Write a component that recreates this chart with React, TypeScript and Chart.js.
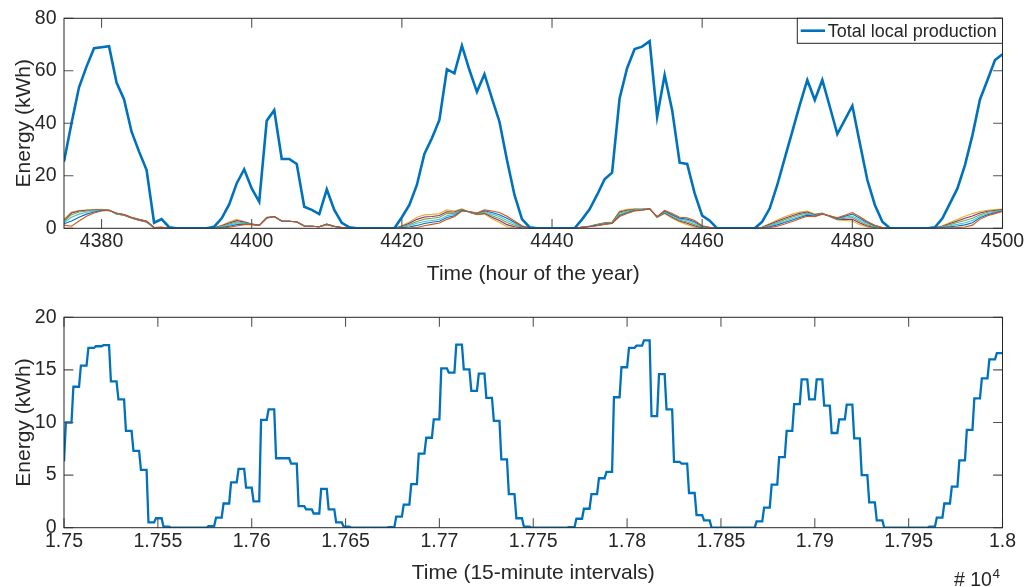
import React, { useEffect, useRef } from 'react';
import { Chart, registerables } from 'chart.js';
Chart.register(...registerables);

// ---------- DATA ----------
const firstHour = 4375;
const lastHour = 4500;
const hours: number[] = Array.from({ length: lastHour - firstHour + 1 }, (_, i) => firstHour + i);

// Total local production (kWh per hour), hours 4375..4500
const totalProduction = [
  25.4, 40, 53.7, 61.6, 68.6, 69, 69.4, 55.5, 49.1, 36.8,
  29.2, 22.2, 2.1, 3.5, 0.4, 0, 0, 0, 0, 0,
  0.6, 3.8, 9.1, 17.1, 22.5, 15.2, 10.1, 41, 45, 26.4,
  26.4, 24.5, 8.2, 7, 5.4, 14.8, 7, 2.1, 0.4, 0,
  0, 0, 0, 0, 0, 4.2, 8.9, 16.5, 28.3, 34.3,
  41.3, 60.6, 59, 69.6, 60.3, 52, 58.7, 49.5, 40.6, 26,
  12.7, 3.5, 0.4, 0, 0, 0, 0, 0, 0, 3.4,
  7.2, 12.7, 18.7, 21.2, 49.5, 61, 68.3, 69.2, 71.3, 42.5,
  58.4, 45, 25, 24.5, 13.3, 4.8, 2.9, 0, 0, 0,
  0, 0, 0, 2.5, 7.6, 16.5, 26.7, 36.8, 47, 56.5,
  48.9, 56.5, 46.3, 35.9, 41.3, 46.7, 32.4, 18.4, 8.9, 2.5,
  0, 0, 0, 0, 0, 0, 0.4, 3.8, 9.5, 15.2,
  24.1, 35.5, 49.1, 56.5, 64.1, 66.3,
];

// Individual producers (kWh per hour), hours 4375..4500
const producerYellow = [
  3.5, 6.2, 6.8, 7.0, 7.1, 7.2, 7.0, 5.4, 5.0, 3.8,
  3.0, 2.3, 0.2, 0.3, 0, 0, 0, 0, 0, 0,
  0.2, 1.2, 2.4, 3.4, 2.6, 1.6, 1.1, 4.2, 4.5, 2.7,
  2.7, 2.4, 0.9, 0.8, 0.6, 1.4, 0.7, 0.2, 0, 0,
  0, 0, 0, 0, 0, 1.0, 2.4, 4.2, 5.1, 5.3,
  5.6, 7.0, 6.6, 7.4, 6.0, 5.2, 5.4, 3.6, 2.2, 0.6,
  0.1, 0, 0, 0, 0, 0, 0, 0, 0, 0.5,
  0.9, 1.5, 2.1, 2.4, 6.6, 7.2, 7.4, 7.3, 7.5, 4.2,
  5.6, 3.8, 2.4, 1.4, 0.4, 0, 0, 0, 0, 0,
  0, 0, 0, 0.5, 1.8, 3.2, 4.4, 5.4, 6.2, 6.6,
  5.4, 5.8, 4.4, 3.2, 3.0, 2.8, 1.4, 0.5, 0.1, 0,
  0, 0, 0, 0, 0, 0, 0.3, 1.0, 2.2, 3.4,
  4.6, 5.6, 6.4, 6.9, 7.1, 7.3,
];
const producerPurple = [
  3.0, 5.8, 6.6, 6.9, 7.0, 7.1, 7.0, 5.5, 5.0, 3.9,
  3.1, 2.4, 0.2, 0.3, 0, 0, 0, 0, 0, 0,
  0.2, 1.0, 2.0, 2.9, 2.4, 1.6, 1.1, 4.1, 4.5, 2.7,
  2.7, 2.4, 0.9, 0.8, 0.6, 1.4, 0.7, 0.2, 0, 0,
  0, 0, 0, 0, 0, 0.8, 1.9, 3.4, 4.3, 4.5,
  4.9, 6.3, 6.2, 7.2, 6.1, 5.3, 5.7, 4.2, 3.0, 1.4,
  0.6, 0.2, 0, 0, 0, 0, 0, 0, 0, 0.5,
  0.8, 1.4, 2.0, 2.3, 6.2, 6.9, 7.2, 7.2, 7.5, 4.2,
  5.8, 4.2, 2.8, 1.9, 0.9, 0.2, 0.1, 0, 0, 0,
  0, 0, 0, 0.4, 1.5, 2.7, 3.8, 4.8, 5.7, 6.2,
  5.2, 5.7, 4.5, 3.4, 3.4, 3.4, 2.0, 0.9, 0.3, 0.1,
  0, 0, 0, 0, 0, 0, 0.2, 0.8, 1.8, 2.8,
  3.8, 4.7, 5.8, 6.5, 6.8, 7.1,
];
const producerGreen = [
  2.6, 5.2, 6.2, 6.6, 6.8, 7.0, 6.9, 5.6, 5.1, 4.0,
  3.2, 2.5, 0.2, 0.3, 0, 0, 0, 0, 0, 0,
  0.1, 0.8, 1.6, 2.4, 2.1, 1.6, 1.1, 4.0, 4.5, 2.7,
  2.7, 2.4, 0.9, 0.8, 0.6, 1.5, 0.7, 0.2, 0, 0,
  0, 0, 0, 0, 0, 0.6, 1.4, 2.6, 3.5, 3.8,
  4.2, 5.6, 5.7, 7.1, 6.2, 5.4, 6.0, 4.8, 3.7, 2.2,
  1.2, 0.4, 0, 0, 0, 0, 0, 0, 0, 0.4,
  0.8, 1.3, 1.9, 2.2, 5.8, 6.6, 7.1, 7.1, 7.5, 4.3,
  6.1, 4.5, 3.1, 2.4, 1.4, 0.4, 0.2, 0, 0, 0,
  0, 0, 0, 0.3, 1.2, 2.2, 3.3, 4.3, 5.2, 5.8,
  5.0, 5.6, 4.6, 3.5, 3.8, 4.1, 2.6, 1.3, 0.5, 0.1,
  0, 0, 0, 0, 0, 0, 0.2, 0.6, 1.4, 2.2,
  3.0, 3.8, 5.2, 6.1, 6.5, 6.9,
];
const producerLightBlue = [
  2.1, 4.2, 5.4, 6.1, 6.6, 6.9, 6.9, 5.6, 5.1, 4.0,
  3.2, 2.6, 0.3, 0.4, 0.1, 0, 0, 0, 0, 0,
  0.1, 0.5, 1.2, 1.9, 1.9, 1.5, 1.1, 4.0, 4.5, 2.8,
  2.7, 2.5, 0.9, 0.8, 0.6, 1.5, 0.8, 0.3, 0.1, 0,
  0, 0, 0, 0, 0, 0.4, 1.0, 1.9, 2.6, 3.0,
  3.4, 4.8, 5.3, 6.9, 6.2, 5.6, 6.4, 5.4, 4.5, 3.0,
  1.7, 0.6, 0.1, 0, 0, 0, 0, 0, 0, 0.4,
  0.7, 1.2, 1.7, 2.0, 5.3, 6.2, 6.9, 7.1, 7.4, 4.3,
  6.3, 4.9, 3.5, 3.0, 2.0, 0.6, 0.2, 0, 0, 0,
  0, 0, 0, 0.3, 0.9, 1.8, 2.7, 3.7, 4.6, 5.4,
  4.8, 5.6, 4.6, 3.7, 4.2, 4.7, 3.2, 1.8, 0.8, 0.2,
  0, 0, 0, 0, 0, 0, 0.1, 0.5, 1.0, 1.5,
  2.1, 3.0, 4.6, 5.6, 6.2, 6.8,
];
const producerBlue = [
  1.7, 2.8, 4.2, 5.4, 6.2, 6.8, 6.8, 5.7, 5.2, 4.1,
  3.3, 2.7, 0.3, 0.4, 0.1, 0, 0, 0, 0, 0,
  0, 0.3, 0.8, 1.4, 1.6, 1.5, 1.1, 3.9, 4.5, 2.8,
  2.7, 2.5, 0.9, 0.8, 0.6, 1.6, 0.8, 0.3, 0.1, 0,
  0, 0, 0, 0, 0, 0.2, 0.5, 1.1, 1.8, 2.3,
  2.7, 4.1, 4.8, 6.8, 6.3, 5.7, 6.7, 6.0, 5.2, 3.8,
  2.3, 0.8, 0.1, 0, 0, 0, 0, 0, 0, 0.3,
  0.7, 1.1, 1.6, 1.9, 4.9, 5.9, 6.8, 7.0, 7.4, 4.4,
  6.6, 5.2, 3.8, 3.5, 2.5, 0.8, 0.3, 0, 0, 0,
  0, 0, 0, 0.2, 0.6, 1.3, 2.2, 3.2, 4.1, 5.0,
  4.6, 5.5, 4.7, 3.8, 4.6, 5.4, 3.8, 2.2, 1.0, 0.2,
  0, 0, 0, 0, 0, 0, 0.1, 0.3, 0.6, 0.9,
  1.3, 2.1, 4.0, 5.2, 5.9, 6.6,
];
const producerOrange = [
  1.2, 0.8, 2.8, 4.6, 5.8, 6.6, 6.8, 5.8, 5.2, 4.2,
  3.4, 2.8, 0.3, 0.4, 0.1, 0, 0, 0, 0, 0,
  0, 0.1, 0.4, 0.9, 1.4, 1.5, 1.1, 3.8, 4.5, 2.8,
  2.7, 2.5, 0.9, 0.8, 0.6, 1.6, 0.8, 0.3, 0.1, 0,
  0, 0, 0, 0, 0, 0, 0.1, 0.3, 1.0, 1.5,
  2.0, 3.4, 4.4, 6.6, 6.4, 5.8, 7.0, 6.6, 6.0, 4.6,
  2.8, 1.0, 0.1, 0, 0, 0, 0, 0, 0, 0.3,
  0.6, 1.0, 1.5, 1.8, 4.5, 5.6, 6.6, 6.9, 7.4, 4.4,
  6.8, 5.6, 4.2, 4.0, 3.0, 1.0, 0.4, 0, 0, 0,
  0, 0, 0, 0.1, 0.3, 0.8, 1.6, 2.6, 3.6, 4.6,
  4.4, 5.4, 4.8, 4.0, 5.0, 6.0, 4.4, 2.6, 1.2, 0.3,
  0, 0, 0, 0, 0, 0, 0, 0.1, 0.2, 0.3,
  0.5, 1.2, 3.4, 4.8, 5.6, 6.4,
];

// 15-minute energy level held during each hour (kWh per 15 min), hours 4375..4500
const quarterHourLevels = [
  6.3, 10.0, 13.4, 15.4, 17.1, 17.25, 17.35, 13.9, 12.2, 9.2,
  7.3, 5.5, 0.5, 0.9, 0.1, 0, 0, 0, 0, 0,
  0.15, 0.95, 2.3, 4.3, 5.6, 3.8, 2.5, 10.25, 11.25, 6.6,
  6.6, 6.1, 2.05, 1.75, 1.35, 3.7, 1.75, 0.5, 0.1, 0,
  0, 0, 0, 0, 0.05, 1.05, 2.2, 4.15, 7.05, 8.55,
  10.3, 15.15, 14.75, 17.4, 15.05, 13.0, 14.65, 12.35, 10.15, 6.5,
  3.2, 0.9, 0.1, 0, 0, 0, 0, 0, 0.05, 0.85,
  1.8, 3.2, 4.7, 5.3, 12.4, 15.25, 17.1, 17.3, 17.8, 10.6,
  14.6, 11.25, 6.25, 6.1, 3.3, 1.2, 0.7, 0, 0, 0,
  0, 0, 0, 0.6, 1.9, 4.1, 6.7, 9.2, 11.75, 14.1,
  12.2, 14.1, 11.6, 9.0, 10.3, 11.7, 8.5, 5.0, 2.4, 0.7,
  0, 0, 0, 0, 0, 0, 0.1, 0.95, 2.3, 3.9,
  6.4, 9.3, 12.3, 14.2, 16.0, 16.6,
];

// Tick labels
const topXTicks = [4380, 4400, 4420, 4440, 4460, 4480, 4500];
const topYTicks = [0, 20, 40, 60, 80];
const botXTicks = [17500, 17550, 17600, 17650, 17700, 17750, 17800, 17850, 17900, 17950, 18000];
const botXLabels = ['1.75', '1.755', '1.76', '1.765', '1.77', '1.775', '1.78', '1.785', '1.79', '1.795', '1.8'];
const botYTicks = [0, 5, 10, 15, 20];

const legendLabel = 'Total local production';
const topXTitle = 'Time (hour of the year)';
const botXTitle = 'Time (15-minute intervals)';
const yTitle = 'Energy (kWh)';

// ---------- STYLE ----------
const W = 1028;
const TOP_H = 295;
const BOT_H = 292;
const PLOT_LEFT = 64;
const PLOT_RIGHT = 1002.5;
const FONT = '"Liberation Sans", Arial, Helvetica, sans-serif';
const TEXT = '#262626';
const MBLUE = '#0072BD';

type AxisCfg = {
  xTicks: number[];
  xLabels: string[];
  yTicks: number[];
  yLabels: string[];
  xTitle: string;
  legend?: boolean;
  exponent?: boolean;
};

const makeAxesPlugin = (o: AxisCfg) => ({
  id: 'matlabAxes',
  afterDraw(chart: any) {
    const { ctx, chartArea: a, scales } = chart;
    const xs = scales.x;
    const ys = scales.y;
    const tl = 9.4;
    ctx.save();
    // ticks (inward, all four sides)
    ctx.strokeStyle = '#555555';
    ctx.lineWidth = 1.1;
    ctx.beginPath();
    o.xTicks.forEach((v) => {
      const px = xs.getPixelForValue(v);
      ctx.moveTo(px, a.bottom);
      ctx.lineTo(px, a.bottom - tl);
      ctx.moveTo(px, a.top);
      ctx.lineTo(px, a.top + tl);
    });
    o.yTicks.forEach((v) => {
      const py = ys.getPixelForValue(v);
      ctx.moveTo(a.left, py);
      ctx.lineTo(a.left + tl, py);
      ctx.moveTo(a.right, py);
      ctx.lineTo(a.right - tl, py);
    });
    ctx.stroke();
    // box
    ctx.strokeStyle = TEXT;
    ctx.lineWidth = 1;
    ctx.strokeRect(a.left, a.top, a.right - a.left, a.bottom - a.top);

    // tick labels
    ctx.fillStyle = TEXT;
    ctx.font = `19.5px ${FONT}`;
    ctx.textAlign = 'center';
    ctx.textBaseline = 'middle';
    o.xTicks.forEach((v, i) => {
      ctx.fillText(o.xLabels[i], xs.getPixelForValue(v), a.bottom + 13.5);
    });
    ctx.textAlign = 'right';
    o.yTicks.forEach((v, i) => {
      ctx.fillText(o.yLabels[i], a.left - 7.5, ys.getPixelForValue(v));
    });
    // titles
    ctx.font = `21px ${FONT}`;
    ctx.textAlign = 'center';
    ctx.fillText(o.xTitle, (a.left + a.right) / 2, a.bottom + 46);
    ctx.save();
    ctx.translate(24, (a.top + a.bottom) / 2);
    ctx.rotate(-Math.PI / 2);
    ctx.fillText(yTitle, 0, 0);
    ctx.restore();

    if (o.legend) {
      const bx = 797.3, by = a.top, bw = a.right - 797.3, bh = 25;
      ctx.fillStyle = '#ffffff';
      ctx.fillRect(bx, by, bw, bh);
      ctx.strokeStyle = TEXT;
      ctx.lineWidth = 1;
      ctx.strokeRect(bx, by, bw, bh);
      ctx.strokeStyle = MBLUE;
      ctx.lineWidth = 2.6;
      ctx.beginPath();
      ctx.moveTo(800.7, by + 12.4);
      ctx.lineTo(825, by + 12.4);
      ctx.stroke();
      ctx.fillStyle = TEXT;
      ctx.font = `18px ${FONT}`;
      ctx.textAlign = 'left';
      ctx.textBaseline = 'alphabetic';
      ctx.fillText(legendLabel, 827.7, by + 19);
    }
    if (o.exponent) {
      ctx.fillStyle = TEXT;
      ctx.textAlign = 'left';
      ctx.textBaseline = 'alphabetic';
      ctx.font = `19.5px ${FONT}`;
      const base = a.bottom + 58.5;
      ctx.fillText('# 10', 954, base);
      ctx.font = `13.5px ${FONT}`;
      ctx.fillText('4', 992.5, base - 8);
    }
    ctx.restore();
  },
});

const lineDs = (label: string, data: any[], color: string, width: number) => ({
  label,
  data,
  borderColor: color,
  backgroundColor: color,
  borderWidth: width,
  pointRadius: 0,
  pointHoverRadius: 0,
  tension: 0,
  fill: false,
});

export default function App() {
  const topRef = useRef<HTMLCanvasElement>(null);
  const botRef = useRef<HTMLCanvasElement>(null);

  useEffect(() => {
    const toXY = (arr: number[]) => arr.map((v, i) => ({ x: hours[i], y: v }));
    const topChart = new Chart(topRef.current!, {
      type: 'line',
      data: {
        datasets: [
          lineDs(legendLabel, toXY(totalProduction), MBLUE, 2.6),
          lineDs('P6', toXY(producerOrange), '#D95319', 1.1),
          lineDs('P5', toXY(producerBlue), '#0072BD', 1.1),
          lineDs('P4', toXY(producerLightBlue), '#4DBEEE', 1.1),
          lineDs('P3', toXY(producerGreen), '#77AC30', 1.1),
          lineDs('P2', toXY(producerPurple), '#7E2F8E', 1.1),
          lineDs('P1', toXY(producerYellow), '#EDB120', 1.1),
        ],
      },
      options: {
        animation: false,
        responsive: false,
        devicePixelRatio: 1,
        layout: { padding: { left: PLOT_LEFT, right: W - PLOT_RIGHT, top: 18.3, bottom: TOP_H - 228.3 } },
        plugins: { legend: { display: false }, tooltip: { enabled: false } },
        scales: {
          x: { type: 'linear', min: firstHour, max: lastHour, display: false },
          y: { type: 'linear', min: 0, max: 80, display: false },
        },
      },
      plugins: [
        makeAxesPlugin({
          xTicks: topXTicks,
          xLabels: topXTicks.map(String),
          yTicks: topYTicks,
          yLabels: topYTicks.map(String),
          xTitle: topXTitle,
          legend: true,
        }),
      ],
    } as any);

    const quarterPoints: { x: number; y: number }[] = [];
    for (let t = firstHour * 4; t <= lastHour * 4; t++) {
      const h = Math.ceil(t / 4);
      quarterPoints.push({ x: t, y: quarterHourLevels[h - firstHour] });
    }

    const botChart = new Chart(botRef.current!, {
      type: 'line',
      data: { datasets: [lineDs('Total 15-min', quarterPoints, MBLUE, 2.3)] },
      options: {
        animation: false,
        responsive: false,
        devicePixelRatio: 1,
        layout: { padding: { left: PLOT_LEFT, right: W - PLOT_RIGHT, top: 317.3 - TOP_H, bottom: BOT_H - (527.7 - TOP_H) } },
        plugins: { legend: { display: false }, tooltip: { enabled: false } },
        scales: {
          x: { type: 'linear', min: firstHour * 4, max: lastHour * 4, display: false },
          y: { type: 'linear', min: 0, max: 20, display: false },
        },
      },
      plugins: [
        makeAxesPlugin({
          xTicks: botXTicks,
          xLabels: botXLabels,
          yTicks: botYTicks,
          yLabels: botYTicks.map(String),
          xTitle: botXTitle,
          exponent: true,
        }),
      ],
    } as any);

    return () => {
      topChart.destroy();
      botChart.destroy();
    };
  }, []);

  return (
    <div style={{ position: 'fixed', left: 0, top: 0, width: W, height: TOP_H + BOT_H, background: '#ffffff' }}>
      <canvas ref={topRef} width={W} height={TOP_H} style={{ position: 'absolute', left: 0, top: 0, width: W, height: TOP_H }} />
      <canvas ref={botRef} width={W} height={BOT_H} style={{ position: 'absolute', left: 0, top: TOP_H, width: W, height: BOT_H }} />
    </div>
  );
}
